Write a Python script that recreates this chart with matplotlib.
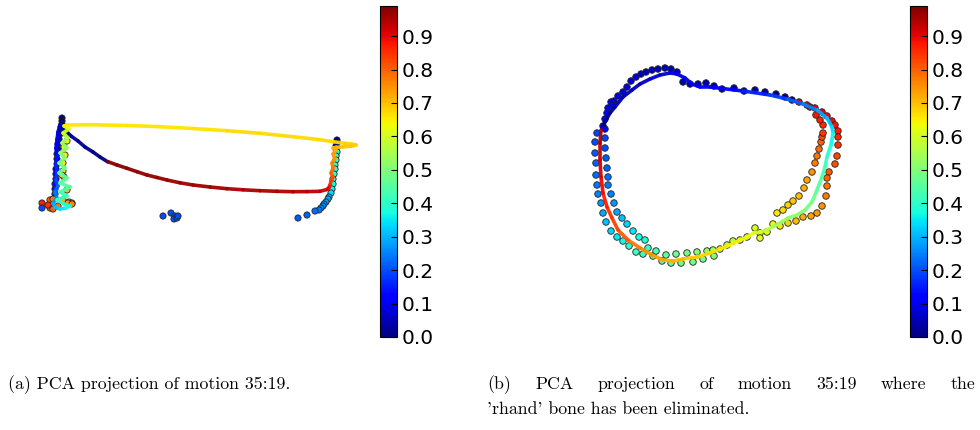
import numpy as np
import matplotlib
matplotlib.use("Agg")
import matplotlib.pyplot as plt
from matplotlib.collections import LineCollection
from matplotlib.colors import Normalize

# ---------------- Panel (a): PCA projection of motion 35:19 ----------------
a_pts_x = [62, 62, 62, 61, 62,
           60, 59, 58, 58, 57, 57, 57, 56, 56, 56, 55, 55, 55, 54,
           65, 67, 64, 65, 63, 63, 64, 62, 67, 63, 69, 72,
           50, 53, 68, 72, 50, 53, 48, 58, 42, 42,
           337, 337, 336, 336,
           337, 336, 336, 335, 335, 334, 333, 333, 332, 331,
           329, 328, 326, 324, 323, 321, 319, 315, 307, 298,
           163, 171, 175, 174, 177, 178]
a_pts_y = [118, 121, 124, 127, 130,
           134, 139, 144, 149, 154, 159, 164, 169, 174, 179, 184, 189, 194, 199,
           133, 141, 147, 155, 163, 171, 177, 175, 190, 200, 202, 203,
           200, 199, 203, 204, 208, 209, 205, 206, 203, 208,
           140, 143, 146, 149,
           152, 156, 160, 165, 169, 174, 179, 184, 189, 193,
           197, 199, 202, 204, 206, 208, 210, 211, 215, 218,
           216, 213, 216, 219, 218, 216]
a_pts_v = [0.0, 0.0, 0.01, 0.01, 0.02,
           0.04, 0.05, 0.06, 0.07, 0.08, 0.09, 0.10, 0.11, 0.12, 0.13, 0.14, 0.15, 0.17, 0.19,
           0.64, 0.65, 0.65, 0.66, 0.66, 0.67, 0.67, 0.68, 0.70, 0.72, 0.74, 0.76,
           0.80, 0.78, 0.75, 0.76, 0.82, 0.80, 0.85, 0.77, 0.87, 0.20,
           0.0, 0.0, 0.01, 0.02,
           0.40, 0.41, 0.41, 0.40, 0.40, 0.39, 0.38, 0.37, 0.36, 0.34,
           0.30, 0.29, 0.28, 0.27, 0.26, 0.25, 0.24, 0.23, 0.22, 0.21,
           0.20, 0.20, 0.20, 0.20, 0.20, 0.20]

a_line_x = [108, 100, 93, 85, 78, 71, 66, 63,
            60, 58, 57, 56, 57, 56, 57, 56, 58, 55, 57, 53, 55,
            60, 66, 70, 64,
            57, 67, 60, 70, 60, 67, 59, 65, 59, 65, 60, 67, 62, 68, 63, 69, 64,
            67, 93, 127, 160, 193, 227, 260, 293, 318, 333, 345, 352, 356, 351, 343, 336,
            333, 336, 333, 335, 332, 333, 331, 333, 331, 330, 329, 327, 320,
            307, 293, 277, 260, 243, 227, 210, 193, 180, 167, 157, 147, 137, 127, 117, 108]
a_line_y = [162, 157, 152, 147, 141, 136, 131, 127,
            125, 132, 140, 148, 156, 164, 172, 180, 186, 192, 198, 203, 207,
            209, 208, 206, 204,
            200, 196, 192, 187, 183, 178, 173, 168, 163, 158, 153, 148, 143, 138, 133, 129, 126,
            125, 124.7, 125.5, 126.7, 128.5, 130.7, 133.3, 136.7, 139.5, 141.7, 143.3, 144.2, 145, 146.3, 146.9, 147.3,
            148, 150, 154, 158, 163, 168, 173, 177, 181, 185, 187.5, 189.5, 191.3,
            191.6, 191.7, 191.3, 190.7, 189.8, 188.7, 187, 185, 182.8, 180, 177.5, 175, 171.7, 168.3, 165, 161.7]
a_line_v = [0.0, 0.005, 0.01, 0.015, 0.02, 0.025, 0.03, 0.04,
            0.05, 0.07, 0.09, 0.11, 0.13, 0.15, 0.17, 0.19, 0.21, 0.23, 0.25, 0.28, 0.30,
            0.33, 0.36, 0.38, 0.40,
            0.41, 0.42, 0.43, 0.44, 0.45, 0.46, 0.47, 0.48, 0.49, 0.50, 0.51, 0.52, 0.53, 0.55, 0.57, 0.60, 0.63,
            0.66, 0.66, 0.66, 0.66, 0.66, 0.67, 0.67, 0.67, 0.67, 0.67, 0.68, 0.68, 0.68, 0.69, 0.69, 0.70,
            0.71, 0.72, 0.73, 0.74, 0.75, 0.77, 0.79, 0.81, 0.83, 0.86, 0.88, 0.91, 0.93,
            0.94, 0.94, 0.95, 0.95, 0.95, 0.96, 0.96, 0.96, 0.96, 0.97, 0.97, 0.97, 0.97, 0.98, 0.98, 0.98]

# ---------------- Panel (b): 'rhand' bone eliminated ----------------
b_pts_x = [683, 690, 698, 706, 714, 722, 734, 744, 755, 765, 776, 785, 792,
           631, 636, 641, 646, 652, 658, 665, 671, 677,
           627, 623, 618, 614, 611, 612, 608, 607, 605, 603, 605,
           597, 595, 595, 596, 596, 597, 598, 601, 603, 606, 611, 617, 623, 629, 636,
           643, 653, 662, 671, 681, 693, 703, 714,
           605, 605, 606, 607, 608, 608, 611, 614, 617, 622, 627, 633, 639, 645,
           648, 656, 666, 676, 687, 697, 707, 713, 720,
           727, 733, 740, 747, 755, 760, 760, 767,
           773, 777, 783, 788, 793, 799, 804, 807, 812, 815, 817, 819, 821, 822, 823, 823, 820, 816, 810,
           799, 807, 815, 822, 827, 832, 835, 838, 838, 838, 837, 835, 829, 827, 827, 826,
           822, 817, 811, 803, 796, 788, 780]
b_pts_y = [82, 84, 84, 83, 86, 89, 88, 91, 90, 92, 94, 97, 100,
           81, 77, 74, 72, 70, 69, 68, 69, 72,
           87, 92, 96, 101, 102, 105, 108, 113, 119, 126, 129,
           133, 142, 153, 163, 175, 185, 194, 203, 213, 222, 231, 237, 241, 246, 252,
           254, 256, 261, 263, 263, 262, 259, 256,
           138, 148, 158, 168, 177, 185, 194, 203, 212, 218, 224, 231, 237, 240,
           248, 251, 255, 254, 253, 252, 251, 250, 249,
           245, 241, 240, 237, 228, 233, 238, 232,
           224, 213, 210, 205, 201, 196, 188, 180, 172, 163, 156, 149, 142, 137, 133, 125, 120, 115, 107,
           102, 105, 108, 112, 116, 121, 125, 131, 137, 145, 156, 164, 172, 178, 186, 196,
           206, 213, 216, 217, 221, 223, 226]
b_pts_v = [0.04, 0.04, 0.04, 0.04, 0.03, 0.03, 0.03, 0.03, 0.03, 0.02, 0.02, 0.02, 0.02,
           0.07, 0.07, 0.06, 0.06, 0.06, 0.05, 0.05, 0.05, 0.05,
           0.08, 0.09, 0.09, 0.10, 0.10, 0.10, 0.11, 0.11, 0.12, 0.12, 0.13,
           0.19, 0.20, 0.21, 0.22, 0.23, 0.24, 0.25, 0.27, 0.29, 0.31, 0.33, 0.35, 0.37, 0.39, 0.41,
           0.42, 0.44, 0.45, 0.46, 0.47, 0.48, 0.49, 0.50,
           0.19, 0.20, 0.21, 0.22, 0.23, 0.24, 0.25, 0.27, 0.29, 0.31, 0.33, 0.35, 0.37, 0.39,
           0.41, 0.43, 0.45, 0.47, 0.49, 0.50, 0.52, 0.53, 0.54,
           0.56, 0.57, 0.58, 0.59, 0.60, 0.61, 0.62, 0.63,
           0.64, 0.66, 0.67, 0.68, 0.69, 0.70, 0.72, 0.73, 0.75, 0.77, 0.78, 0.79, 0.80, 0.82, 0.84, 0.86, 0.87, 0.88, 0.90,
           0.91, 0.91, 0.90, 0.90, 0.89, 0.89, 0.88, 0.87, 0.86, 0.85, 0.83, 0.82, 0.81, 0.80, 0.78, 0.77,
           0.75, 0.74, 0.73, 0.72, 0.70, 0.68, 0.66]

b_line_x = [602, 605, 610, 615, 623, 632, 640, 650, 660, 670, 677, 685, 692, 700, 710,
            743, 770, 787, 803, 817, 827, 832, 833, 831, 827, 825, 822, 817, 812, 805, 797, 788, 780, 772,
            767, 760, 753, 748, 740, 730, 720, 710, 697, 683, 673, 663, 652, 640, 628, 618, 612, 607, 603,
            601, 600, 600, 601]
b_line_y = [128, 122, 113, 107, 97, 90, 84, 79, 75, 73, 74, 78, 84, 87, 87,
            91, 95, 99, 104, 110, 118, 127, 133, 145, 157, 167, 177, 190, 202, 210, 215, 218, 223, 227,
            230, 232, 233, 237, 240, 245, 249, 253, 257, 259, 261, 260, 255, 248, 240, 230, 218, 207, 193,
            177, 160, 143, 130]
b_line_v = [0.00, 0.01, 0.02, 0.03, 0.04, 0.05, 0.06, 0.07, 0.08, 0.08, 0.09, 0.09, 0.10, 0.10, 0.11,
            0.14, 0.17, 0.20, 0.23, 0.27, 0.30, 0.33, 0.35, 0.38, 0.40, 0.42, 0.44, 0.46, 0.48, 0.50, 0.51, 0.52, 0.53, 0.55,
            0.57, 0.59, 0.61, 0.63, 0.64, 0.65, 0.66, 0.67, 0.68, 0.70, 0.71, 0.72, 0.74, 0.76, 0.79, 0.82, 0.84, 0.86, 0.88,
            0.90, 0.92, 0.94, 0.96]

cbar_ticks = [0.0, 0.1, 0.2, 0.3, 0.4, 0.5, 0.6, 0.7, 0.8, 0.9]
caption_a = "(a) PCA projection of motion 35:19."
caption_b1 = "(b) PCA projection of motion 35:19 where the"
caption_b2 = "'rhand' bone has been eliminated."

W, H = 980, 430
cmap = plt.get_cmap("jet")
norm = Normalize(vmin=0.0, vmax=0.99)

fig = plt.figure(figsize=(W / 100, H / 100), dpi=100)
fig.patch.set_facecolor("white")


def fr(x0, y0, x1, y1):
    return [x0 / W, 1 - y1 / H, (x1 - x0) / W, (y1 - y0) / H]


def draw_panel(ax, xlim, px, py, pv, lx, ly, lv, s):
    ax.set_xlim(*xlim)
    ax.set_ylim(350, 0)
    ax.set_axis_off()
    sc = ax.scatter(px, py, c=pv, cmap=cmap, norm=norm, s=s,
                    edgecolors="#222222", linewidths=0.6, zorder=2)
    pts = np.column_stack([lx, ly])
    segs = np.stack([pts[:-1], pts[1:]], axis=1)
    vals = (np.array(lv[:-1]) + np.array(lv[1:])) / 2
    lc = LineCollection(segs, cmap=cmap, norm=norm, linewidths=2.6,
                        capstyle="round", joinstyle="round", alpha=0.95, zorder=3)
    lc.set_array(vals)
    ax.add_collection(lc)
    return sc


ax1 = fig.add_axes(fr(0, 0, 370, 350))
sc1 = draw_panel(ax1, (0, 370), a_pts_x, a_pts_y, a_pts_v, a_line_x, a_line_y, a_line_v, 20)
ax2 = fig.add_axes(fr(560, 0, 930, 350))
sc2 = draw_panel(ax2, (560, 930), b_pts_x, b_pts_y, b_pts_v, b_line_x, b_line_y, b_line_v, 22)

for x0, sc in [(380, sc1), (910, sc2)]:
    cax = fig.add_axes(fr(x0, 6, x0 + 17, 337))
    cb = fig.colorbar(sc, cax=cax, ticks=cbar_ticks)
    cb.ax.set_yticklabels([f"{t:.1f}" for t in cbar_ticks])
    cb.ax.tick_params(direction="in", length=4, width=0.8, labelsize=14.5,
                      pad=3, right=True, left=False, colors="black")
    cb.outline.set_linewidth(0.8)

cap_kw = dict(fontsize=12.8, family="cmr10", va="baseline", ha="left")
base1 = 1 - 389 / H
base2 = 1 - 414 / H
fig.text(8 / W, base1, caption_a, **cap_kw)
fig.text(487 / W, base2, caption_b2, **cap_kw)

# first line of caption (b) is justified across the full width
renderer = fig.canvas.get_renderer()
words = caption_b1.split(" ")
wtexts = [fig.text(0, base1, w, **cap_kw) for w in words]
widths = [t.get_window_extent(renderer).width for t in wtexts]
x_left, x_right = 487, 975
gap = (x_right - x_left - sum(widths)) / (len(words) - 1)
x = x_left
for t, w in zip(wtexts, widths):
    t.set_x(x / W)
    x += w + gap

fig.savefig("out.png", dpi=100, facecolor="white")
